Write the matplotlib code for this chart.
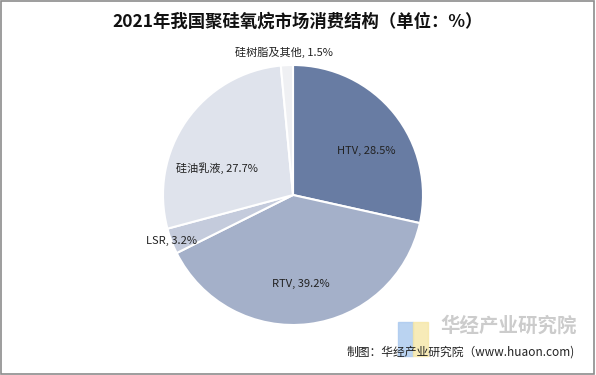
import numpy as np
import matplotlib.pyplot as plt
from matplotlib.patches import Rectangle

plt.rcParams['font.family'] = ['Noto Sans CJK SC', 'DejaVu Sans']

categories = ["HTV", "RTV", "LSR", "硅油乳液", "硅树脂及其他"]
shares = [28.5, 39.2, 3.2, 27.7, 1.5]
colors = ["#687ca3", "#a4b0c9", "#c4cbdc", "#dfe3ec", "#eff0f3"]
# radius factor and angle tweak (deg) for each label
label_r = [0.66, 0.69, 1.0, 0.62, 1.1]
label_da = [-8, -2, 0, 15, 1]

fig = plt.figure(figsize=(5.96, 3.75), dpi=100)
W, H = 596, 375
cx, cy, r = 293, 195, 130
ax = fig.add_axes([(cx - r) / W, (H - cy - r) / H, 2 * r / W, 2 * r / H])
wedges, _ = ax.pie(shares, colors=colors, startangle=90, counterclock=False,
                   wedgeprops=dict(edgecolor="white", linewidth=1.5), radius=1)
ax.set_xlim(-1, 1)
ax.set_ylim(-1, 1)
ax.set_aspect("equal")

for w, name, val, rf, da in zip(wedges, categories, shares, label_r, label_da):
    mid = np.deg2rad((w.theta1 + w.theta2) / 2 + da)
    ax.text(rf * np.cos(mid), rf * np.sin(mid), f"{name}, {val}%",
            ha="center", va="center", fontsize=8, color="#222222")

fig.text(298 / W, 1 - 22 / H, "2021年我国聚硅氧烷市场消费结构（单位：%）",
         ha="center", va="center", fontsize=12.5, fontweight="bold", color="#111111")

# watermark
fig.patches.append(Rectangle((398 / W, 1 - 356 / H), 15 / W, 34 / H,
                             transform=fig.transFigure, color="#a9c8ee", alpha=0.8))
fig.patches.append(Rectangle((413 / W, 1 - 356 / H), 15 / W, 34 / H,
                             transform=fig.transFigure, color="#f6e7a6", alpha=0.8))
fig.text(440 / W, 1 - 326 / H, "华经产业研究院", ha="left", va="center",
         fontsize=14, fontweight="bold", color="#cccccc")
fig.text(575 / W, 1 - 352 / H, "制图：华经产业研究院（www.huaon.com)",
         ha="right", va="center", fontsize=8.5, color="#222222")

fig.patches.append(Rectangle((0.002, 0.003), 0.995, 0.994, transform=fig.transFigure,
                             fill=False, edgecolor="#8c8c8c", linewidth=1.2))

fig.savefig("out.png", dpi=100)
